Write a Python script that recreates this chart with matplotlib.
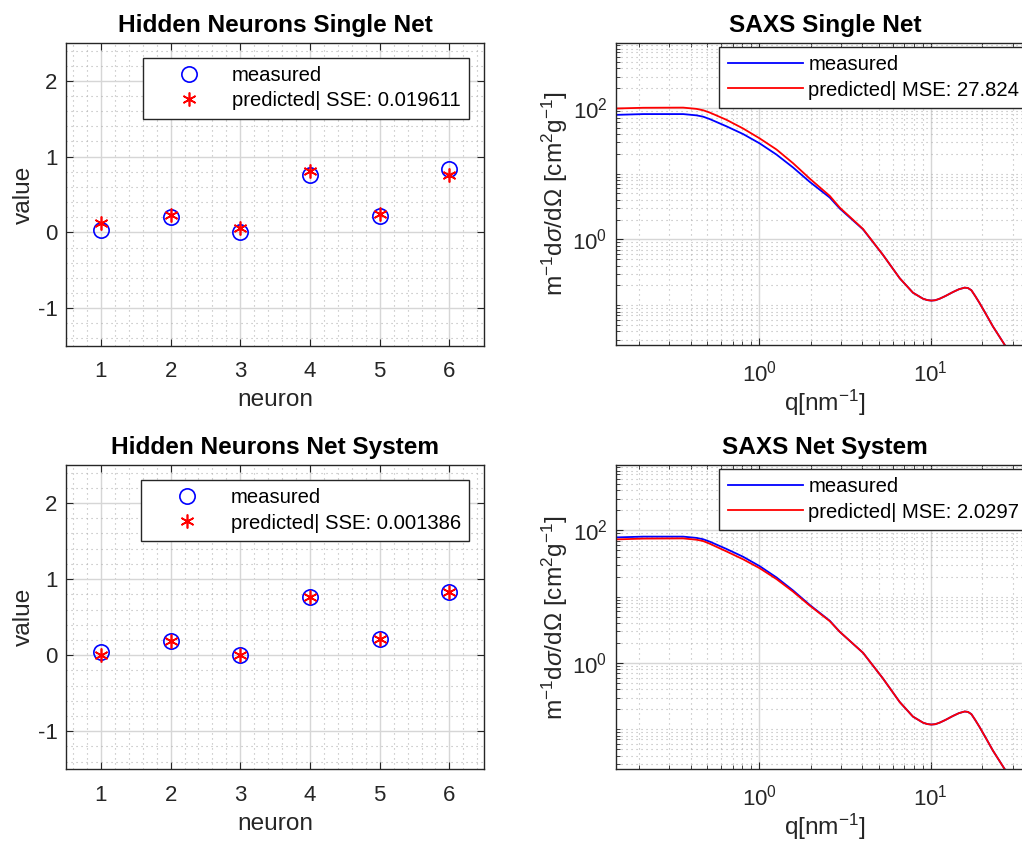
import matplotlib
matplotlib.use("Agg")
import matplotlib.pyplot as plt
import numpy as np
from matplotlib.ticker import FixedLocator, MultipleLocator, LogLocator, NullFormatter, LogFormatterSciNotation

plt.rcParams["font.family"] = ["Liberation Sans", "DejaVu Sans"]
plt.rcParams["mathtext.fontset"] = "custom"
plt.rcParams["mathtext.rm"] = "Liberation Sans"
plt.rcParams["mathtext.it"] = "Liberation Sans:italic"
plt.rcParams["mathtext.bf"] = "Liberation Sans:bold"
plt.rcParams["axes.unicode_minus"] = False

# hidden neuron values
neurons = [1, 2, 3, 4, 5, 6]
single_measured = [0.035, 0.197, 0.0, 0.758, 0.219, 0.832]
single_predicted = [0.12, 0.232, 0.06, 0.815, 0.241, 0.76]
system_measured = [0.04, 0.19, 0.0, 0.763, 0.215, 0.83]
system_predicted = [0.005, 0.19, 0.0, 0.76, 0.215, 0.83]
sse_single = "0.019611"
sse_system = "0.001386"

# SAXS curves
q = [0.146, 0.211, 0.361, 0.432, 0.472, 0.516, 0.646, 0.807, 1.009, 1.263,
     1.578, 1.974, 2.581, 2.951, 4.035, 5.275, 6.60, 7.886, 9.02, 9.55,
     10.09, 10.65, 11.28, 12.2, 13.49, 14.6, 15.78, 16.5, 17.26, 18.2,
     19.29, 21.0, 23.06, 26.98, 29.63]
saxs_measured = [78.3, 80.5, 80.5, 77.0, 73.5, 67.6, 52.4, 40.0, 28.8, 19.5,
                 12.4, 7.49, 4.33, 2.95, 1.42, 0.580, 0.2566, 0.1546, 0.1254, 0.1195,
                 0.1174, 0.1190, 0.1254, 0.138, 0.1585, 0.1745, 0.1848, 0.182, 0.1687, 0.137,
                 0.1072, 0.073, 0.0474, 0.0250, 0.0163]
saxs_pred_single = [97.9, 100.4, 101.0, 96.6, 92.0, 84.9, 65.8, 48.6, 34.3, 23.3,
                    14.4, 8.40, 4.59, 3.05, 1.44, 0.580, 0.2566, 0.1546, 0.1254, 0.1195,
                    0.1174, 0.1190, 0.1254, 0.138, 0.1585, 0.1745, 0.1848, 0.182, 0.1687, 0.137,
                    0.1072, 0.073, 0.0474, 0.0250, 0.0163]
saxs_pred_system = [73.1, 75.1, 75.6, 72.3, 69.0, 62.9, 48.1, 36.6, 26.8, 18.4,
                    11.9, 7.31, 4.27, 2.95, 1.42, 0.580, 0.2566, 0.1546, 0.1254, 0.1195,
                    0.1174, 0.1190, 0.1254, 0.138, 0.1585, 0.1745, 0.1848, 0.182, 0.1687, 0.137,
                    0.1072, 0.073, 0.0474, 0.0250, 0.0163]
mse_single = "27.824"
mse_system = "2.0297"

W, H = 1022, 851
fig = plt.figure(figsize=(W / 100, H / 100), dpi=100)

def px_axes(l, t, r, b):
    return fig.add_axes([l / W, 1 - b / H, (r - l) / W, (b - t) / H])

TXT = "#262626"
FS = 16
LEG = dict(fontsize=14.6, frameon=True, fancybox=False, edgecolor=TXT, framealpha=1,
           handlelength=3.7, handletextpad=0.28, borderpad=0.42, labelspacing=0.3,
           borderaxespad=0)

def matlab_style(ax):
    for s in ax.spines.values():
        s.set_color(TXT)
        s.set_linewidth(1.0)
    ax.tick_params(which="both", direction="in", top=True, right=True, colors=TXT,
                   labelsize=FS)
    ax.tick_params(which="major", length=5, width=0.8)
    ax.tick_params(which="minor", length=3, width=0.6)
    ax.tick_params(axis="x", pad=11)
    ax.tick_params(axis="y", pad=6)
    ax.grid(True, which="major", color="#d6d6d6", lw=1.0, ls="-", zorder=0)
    ax.grid(True, which="minor", color="#b4b4b4", lw=0.8, ls=(0, (1, 3.5)), zorder=0)
    ax.set_axisbelow(True)

def neuron_panel(ax, meas, pred, sse, title):
    matlab_style(ax)
    ax.plot(neurons, meas, ls="none", marker="o", ms=11, mfc="none", mec="#0000ff",
            mew=1.2, label="measured")
    ax.plot(neurons, pred, ls="none", marker=(6, 2, 0), ms=10, mec="#ff0000",
            mew=1.2, label=f"predicted| SSE: {sse}")
    ax.set_xlim(0.5, 6.5)
    ax.set_ylim(-1.5, 2.5)
    ax.xaxis.set_major_locator(FixedLocator(neurons))
    ax.yaxis.set_major_locator(FixedLocator([-1, 0, 1, 2]))
    ax.xaxis.set_minor_locator(MultipleLocator(0.2))
    ax.yaxis.set_minor_locator(MultipleLocator(0.2))
    ax.tick_params(which="minor", length=0)
    ax.set_xlabel("neuron", fontsize=17.6, color=TXT, labelpad=5)
    ax.set_ylabel("value", fontsize=17.6, color=TXT, labelpad=2)
    ax.set_title(title, fontsize=17.6, fontweight="bold", pad=8)
    leg = ax.legend(loc="upper right", bbox_to_anchor=(0.964, 0.951), numpoints=1, **LEG)
    leg.get_frame().set_linewidth(1.0)

def saxs_panel(ax, pred, mse, title):
    matlab_style(ax)
    ax.plot(q, saxs_measured, color="#0000ff", lw=1.3, label="measured")
    ax.plot(q, pred, color="#ff0000", lw=1.3, label=f"predicted| MSE: {mse}")
    ax.set_xscale("log")
    ax.set_yscale("log")
    ax.set_xlim(0.146, 40)
    ax.set_ylim(0.0248, 970)
    ax.xaxis.set_major_locator(FixedLocator([1, 10]))
    ax.yaxis.set_major_locator(FixedLocator([1, 100]))
    ax.xaxis.set_major_formatter(LogFormatterSciNotation())
    ax.yaxis.set_major_formatter(LogFormatterSciNotation())
    ax.xaxis.set_minor_locator(LogLocator(base=10, subs=np.arange(1, 10), numticks=20))
    ax.yaxis.set_minor_locator(LogLocator(base=10, subs=np.arange(1, 10), numticks=20))
    ax.xaxis.set_minor_formatter(NullFormatter())
    ax.yaxis.set_minor_formatter(NullFormatter())
    ax.set_xlabel(r"q[nm$^{-1}$]", fontsize=17.6, color=TXT, labelpad=1)
    ax.set_ylabel(r"m$^{-1}$d$\sigma$/d$\Omega$ [cm$^2$g$^{-1}$]", fontsize=17.6,
                  color=TXT, labelpad=2)
    ax.set_title(title, fontsize=17.6, fontweight="bold", pad=8)
    leg = ax.legend(loc="upper left", bbox_to_anchor=(0.247, 0.987), **LEG)
    leg.get_frame().set_linewidth(1.0)

ax1 = px_axes(66, 43, 484.3, 346)
ax2 = px_axes(615.7, 43, 1034, 345)
ax3 = px_axes(66, 465, 484.3, 769.3)
ax4 = px_axes(615.7, 465, 1034, 769.3)

neuron_panel(ax1, single_measured, single_predicted, sse_single, "Hidden Neurons Single Net")
saxs_panel(ax2, saxs_pred_single, mse_single, "SAXS Single Net")
neuron_panel(ax3, system_measured, system_predicted, sse_system, "Hidden Neurons Net System")
saxs_panel(ax4, saxs_pred_system, mse_system, "SAXS Net System")

fig.savefig("out.png", dpi=100, facecolor="white")
